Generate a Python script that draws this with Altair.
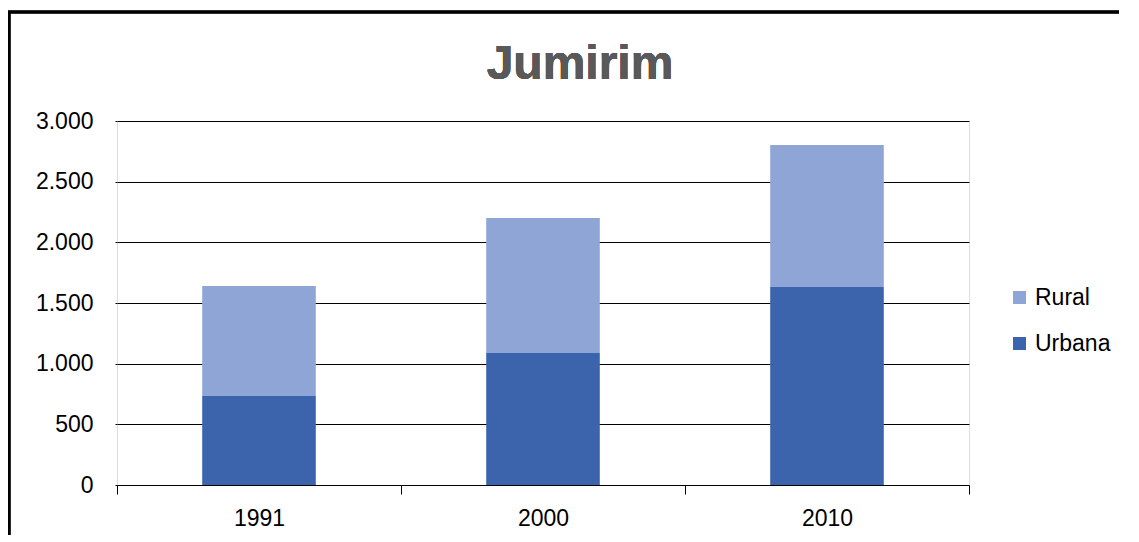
import altair as alt
import pandas as pd

years = ["1991", "2000", "2010"]
urbana = [734, 1088, 1632]
rural = [906, 1113, 1171]
series = ["Rural", "Urbana"]
colors = ["#8EA5D5", "#3B64AD"]
title_text = "Jumirim"

rows = []
for i, y in enumerate(years):
    rows.append({"ano": y, "serie": "Urbana", "valor": urbana[i], "ord": 0})
    rows.append({"ano": y, "serie": "Rural", "valor": rural[i], "ord": 1})
df = pd.DataFrame(rows)

FONT = "Liberation Sans"

bars = alt.Chart(df).mark_bar(width=alt.RelativeBandSize(0.4)).encode(
    x=alt.X("ano:N", sort=years, title=None,
            scale=alt.Scale(paddingInner=0, paddingOuter=0),
            axis=alt.Axis(labelAngle=0, domainColor="black", domainWidth=1,
                          tickColor="black", tickSize=9, tickBand="extent",
                          labelFontSize=23, labelFont=FONT, labelColor="black",
                          labelPadding=13, grid=False)),
    y=alt.Y("valor:Q", stack="zero", title=None,
            scale=alt.Scale(domain=[0, 3000]),
            axis=alt.Axis(values=[0, 500, 1000, 1500, 2000, 2500, 3000],
                          labelExpr="replace(format(datum.value, ','), ',', '.')",
                          domain=False, tickColor="black", tickSize=2,
                          gridColor="black", gridWidth=1, gridOpacity=1,
                          labelFontSize=23, labelFont=FONT, labelColor="black",
                          labelPadding=22)),
    color=alt.Color("serie:N", scale=alt.Scale(domain=series, range=colors),
                    legend=alt.Legend(title=None, orient="none", legendX=891, legendY=165,
                                      symbolType="square", symbolSize=169,
                                      symbolStrokeWidth=0, labelFontSize=23,
                                      labelFont=FONT, labelColor="black",
                                      rowPadding=22, padding=0, labelOffset=4)),
    order=alt.Order("ord:Q"),
)

title = alt.Chart(df).mark_text(
    text=title_text, fontSize=48, font=FONT, fontWeight="bold", color="#595959",
    align="center", baseline="alphabetic",
).encode(x=alt.value(463), y=alt.value(-42))

border_left = alt.Chart(df).mark_rule(color="black", strokeWidth=2.5).encode(
    x=alt.value(-108), y=alt.value(-109), y2=alt.value(500))
border_top = alt.Chart(df).mark_rule(color="black", strokeWidth=2.5).encode(
    x=alt.value(-109), x2=alt.value(1100), y=alt.value(-109))

chart = alt.layer(bars, title, border_left, border_top).properties(
    width=852, height=364,
    autosize=alt.AutoSizeParams(type="none"),
    padding={"left": 109, "top": 113, "right": 150, "bottom": 50},
).configure_view(stroke=None).configure(background="white")

chart.save("out.html", embed_options={"renderer": "svg", "actions": False})
